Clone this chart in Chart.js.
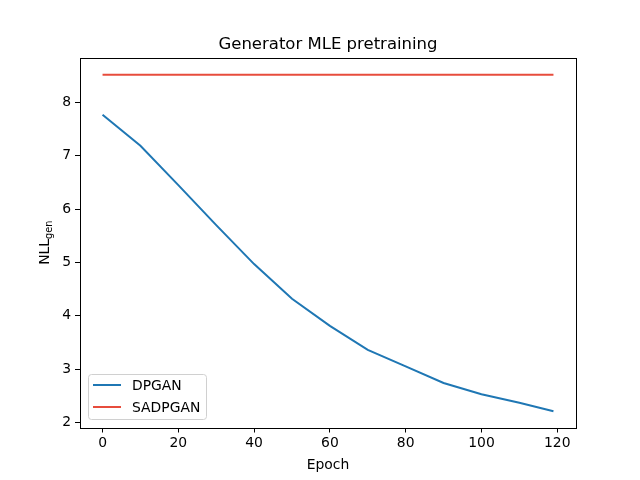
<!DOCTYPE html>
<html><head><meta charset="utf-8">
<script src="https://cdn.jsdelivr.net/npm/chart.js@4"></script>
<style>html,body{margin:0;padding:0;background:#fff}#wrap{width:640px;height:480px}</style>
</head><body><div id="wrap"><canvas id="c" width="640" height="480"></canvas></div>
<script>
const epochs = [0,10,20,30,40,50,60,70,80,90,100,110,119];
const dpgan = [7.77,7.19,6.45,5.70,4.97,4.32,3.81,3.36,3.05,2.74,2.53,2.37,2.21];
const sadpgan = [8.52,8.52,8.52,8.52,8.52,8.52,8.52,8.52,8.52,8.52,8.52,8.52,8.52];
const xTicks = [0,20,40,60,80,100,120];
const yTicks = [2,3,4,5,6,7,8];
const FONT = "'DejaVu Sans', sans-serif";

const frame = {
  id:'frame',
  afterDraw(chart){
    const {ctx, chartArea:a} = chart;
    ctx.save();
    ctx.strokeStyle='#000'; ctx.lineWidth=1;
    ctx.strokeRect(Math.round(a.left)+0.5, Math.round(a.top)+0.5, Math.round(a.right-a.left), Math.round(a.bottom-a.top));
    ctx.fillStyle='#000';
    ctx.textAlign='center'; ctx.textBaseline='alphabetic';
    ctx.font = "16.5px "+FONT;
    ctx.fillText('Generator MLE pretraining', (a.left+a.right)/2, 49);
    ctx.font = "13.9px "+FONT;
    ctx.fillText('Epoch', (a.left+a.right)/2, 469);
    ctx.save();
    ctx.translate(49, (a.top+a.bottom)/2);
    ctx.rotate(-Math.PI/2);
    ctx.font = "13.9px "+FONT;
    const w1 = ctx.measureText('NLL').width;
    ctx.font = "9.7px "+FONT;
    const w2 = ctx.measureText('gen').width;
    const start = -(w1+w2)/2;
    ctx.textAlign='left';
    ctx.font = "13.9px "+FONT;
    ctx.fillText('NLL', start, 0);
    ctx.font = "9.7px "+FONT;
    ctx.fillText('gen', start+w1, 3);
    ctx.restore();
    const lx=88, ly=374, lw=118, lh=45;
    ctx.beginPath();
    if (ctx.roundRect) ctx.roundRect(lx+0.5, ly+0.5, lw, lh, 3); else ctx.rect(lx+0.5, ly+0.5, lw, lh);
    ctx.fillStyle='rgba(255,255,255,0.8)'; ctx.fill();
    ctx.strokeStyle='#d0d0d0'; ctx.lineWidth=1; ctx.stroke();
    chart.data.datasets.forEach((ds,i)=>{
      const yy = ly + 11 + i*22;
      ctx.strokeStyle=ds.borderColor; ctx.lineWidth=2;
      ctx.beginPath(); ctx.moveTo(93, yy); ctx.lineTo(121, yy); ctx.stroke();
      ctx.fillStyle='#000'; ctx.font="13.9px "+FONT; ctx.textAlign='left'; ctx.textBaseline='middle';
      ctx.fillText(ds.label, 132, yy+1);
    });
    ctx.restore();
  }
};

new Chart(document.getElementById('c'), {
  type:'line',
  data:{datasets:[
    {label:'DPGAN', data:epochs.map((x,i)=>({x, y:dpgan[i]})), borderColor:'#1f77b4', borderWidth:2, pointRadius:0, tension:0, fill:false},
    {label:'SADPGAN', data:epochs.map((x,i)=>({x, y:sadpgan[i]})), borderColor:'#e74c3c', borderWidth:2, pointRadius:0, tension:0, fill:false}
  ]},
  options:{
    responsive:false, animation:false, devicePixelRatio:1,
    layout:{padding:{left:0, top:58, right:64, bottom:0}},
    plugins:{legend:{display:false}, title:{display:false}, tooltip:{enabled:false}},
    scales:{
      x:{type:'linear', min:-5.95, max:124.95,
        afterBuildTicks(s){ s.ticks = xTicks.map(v=>({value:v})); },
        afterFit(s){ s.height = 52.5; },
        grid:{drawOnChartArea:false, drawTicks:true, tickLength:5, tickColor:'#000'},
        border:{display:false},
        ticks:{color:'#000', font:{family:FONT, size:13.9}, padding:3, maxRotation:0, autoSkip:false}
      },
      y:{type:'linear', min:1.905, max:8.835,
        afterBuildTicks(s){ s.ticks = yTicks.map(v=>({value:v})); },
        afterFit(s){ s.width = 80; },
        grid:{drawOnChartArea:false, drawTicks:true, tickLength:5, tickColor:'#000'},
        border:{display:false},
        ticks:{color:'#000', font:{family:FONT, size:13.9}, padding:4, autoSkip:false}
      }
    }
  },
  plugins:[frame]
});
</script></body></html>
